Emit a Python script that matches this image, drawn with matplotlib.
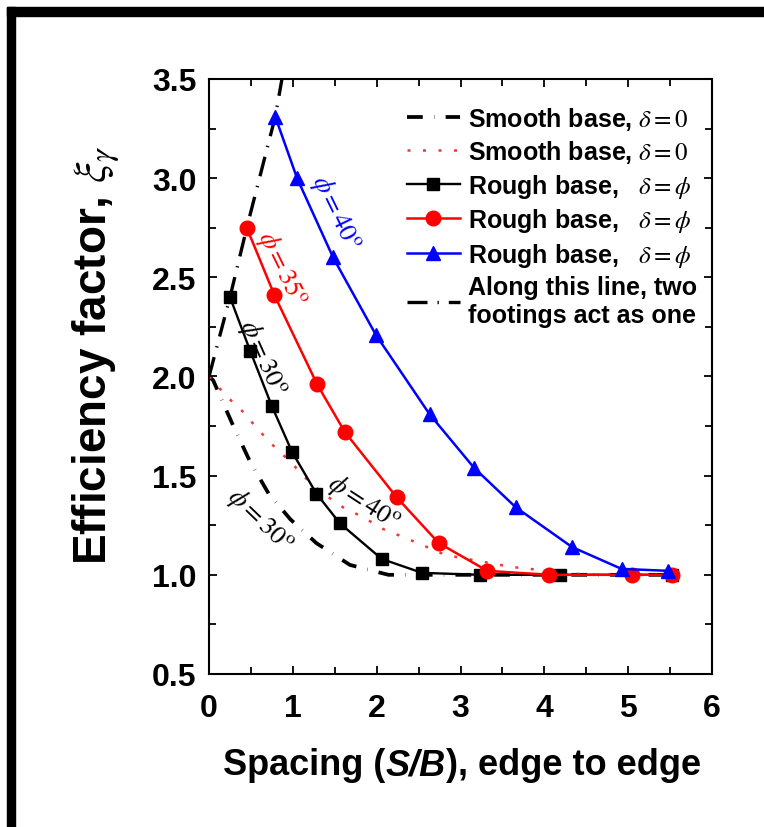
import matplotlib
matplotlib.use("Agg")
import matplotlib.pyplot as plt
from matplotlib.patches import Rectangle
from matplotlib.offsetbox import TextArea, HPacker, AnchoredOffsetbox

# ---------------- data ----------------
rough30_x = [0.25, 0.49, 0.75, 0.99, 1.28, 1.56, 2.06, 2.54, 3.23, 4.19, 5.52]
rough30_y = [2.40, 2.13, 1.85, 1.62, 1.41, 1.26, 1.08, 1.01, 1.00, 1.00, 1.00]

rough35_x = [0.45, 0.78, 1.29, 1.62, 2.24, 2.74, 3.32, 4.06, 5.04, 5.52]
rough35_y = [2.75, 2.41, 1.96, 1.72, 1.39, 1.16, 1.02, 1.00, 1.00, 1.00]

rough40_x = [0.79, 1.05, 1.48, 1.99, 2.63, 3.16, 3.66, 4.33, 4.92, 5.48]
rough40_y = [3.31, 3.00, 2.60, 2.21, 1.81, 1.54, 1.34, 1.14, 1.03, 1.02]

smooth30_x = [0.0, 0.05, 0.29, 0.49, 0.71, 0.97, 1.28, 1.68, 2.14, 3.0, 4.2, 5.5]
smooth30_y = [2.00, 1.98, 1.75, 1.57, 1.41, 1.28, 1.16, 1.05, 1.00, 1.00, 1.00, 1.00]

smooth40_x = [0.0, 0.21, 0.41, 0.59, 0.77, 0.97, 1.17, 1.36, 1.60, 1.84, 2.08, 2.32, 2.60, 2.82, 3.08, 3.60, 4.5, 5.5]
smooth40_y = [2.00, 1.90, 1.82, 1.73, 1.65, 1.57, 1.48, 1.41, 1.34, 1.29, 1.23, 1.19, 1.14, 1.10, 1.08, 1.04, 1.00, 1.00]

oneline_x = [0.0, 0.25, 0.45, 0.79, 0.87]
oneline_y = [2.00, 2.40, 2.75, 3.31, 3.50]

legend_labels = [
    r"Smooth base, $\delta = 0$",
    r"Smooth base, $\delta = 0$",
    r"Rough base,   $\delta = \phi$",
    r"Rough base,   $\delta = \phi$",
    r"Rough base,   $\delta = \phi$",
    "Along this line, two\nfootings act as one",
]

x_ticks = [0, 1, 2, 3, 4, 5, 6]
y_ticks = [0.5, 1.0, 1.5, 2.0, 2.5, 3.0, 3.5]
y_tick_labels = ["0.5", "1.0", "1.5", "2.0", "2.5", "3.0", "3.5"]

# ---------------- fonts ----------------
plt.rcParams["font.family"] = ["Liberation Sans", "DejaVu Sans"]
plt.rcParams["mathtext.fontset"] = "stix"

fig = plt.figure(figsize=(7.64, 8.28), dpi=100)
ax = fig.add_axes([0.2736, 0.1848, 0.9320 - 0.2736, 0.9034 - 0.1848])

# frame bars (left and top) of the figure
fig.add_artist(Rectangle((7 / 764, 0), 8 / 764, 1 - 8 / 828, transform=fig.transFigure,
                         color="black", zorder=10))
fig.add_artist(Rectangle((7 / 764, 1 - 17 / 828), 1, 9 / 828, transform=fig.transFigure,
                         color="black", zorder=10))

ax.plot(smooth30_x, smooth30_y, color="black", lw=2.7,
        dashes=(4.2, 3.0, 0.1, 3.0), label=legend_labels[0])
ax.plot(smooth40_x, smooth40_y, color="#f03838", lw=1.8,
        dashes=(1.2, 5.0), label=legend_labels[1])
ax.plot(rough30_x, rough30_y, color="black", lw=1.7, marker="s", ms=9,
        label=legend_labels[2], zorder=4)
ax.plot(rough35_x, rough35_y, color="#ff0000", lw=1.8, marker="o", ms=10.5,
        label=legend_labels[3], zorder=4)
ax.plot(rough40_x, rough40_y, color="#0000ff", lw=1.8, marker="^", ms=10.5,
        label=legend_labels[4], zorder=4)
ax.plot(oneline_x, oneline_y, color="black", lw=2.4,
        dashes=(6.0, 3.0, 0.4, 3.0), label=legend_labels[5], zorder=3)

ax.set_xlim(0, 6)
ax.set_ylim(0.5, 3.5)
ax.set_xticks(x_ticks)
ax.set_xticklabels([str(v) for v in x_ticks])
ax.set_yticks(y_ticks)
ax.set_yticklabels(y_tick_labels)
ax.set_xticks([0.5 + i for i in range(6)], minor=True)
ax.set_yticks([0.75 + 0.5 * i for i in range(6)], minor=True)
ax.tick_params(which="both", direction="in", top=True, right=True, width=1.3)
ax.tick_params(which="major", length=6)
ax.tick_params(which="minor", length=5)
ax.tick_params(axis="x", which="major", pad=14)
ax.tick_params(axis="y", which="major", pad=9)
for lab in ax.get_xticklabels() + ax.get_yticklabels():
    lab.set_fontweight("bold")
    lab.set_fontsize(23)
for sp in ax.spines.values():
    sp.set_linewidth(1.5)

# x label built from pieces so that S/B is bold italic sans
xl_props = dict(fontsize=26, fontweight="bold", color="black")
xl_box = HPacker(children=[
    TextArea("Spacing (", textprops=xl_props),
    TextArea("S/B", textprops=dict(xl_props, fontstyle="italic")),
    TextArea("), edge to edge", textprops=xl_props),
], align="baseline", pad=0, sep=0)
fig.add_artist(AnchoredOffsetbox(loc="center", child=xl_box, pad=0, borderpad=0,
                                 frameon=False, bbox_to_anchor=(462 / 764, 1 - 766 / 828),
                                 bbox_transform=fig.transFigure))

ax.set_ylabel(r"Efficiency factor, $\xi_\gamma$", fontsize=33, fontweight="bold")
ax.yaxis.set_label_coords(-0.173, 0.538)

# annotations
ann = 19
ax.text(1.51, 2.83, r"$\phi = 40^{\mathrm{o}}$", color="#0000ff", fontsize=ann,
        rotation=-64, ha="center", va="center", rotation_mode="anchor")
ax.text(0.87, 2.55, r"$\phi = 35^{\mathrm{o}}$", color="#ff0000", fontsize=ann,
        rotation=-64, ha="center", va="center", rotation_mode="anchor")
ax.text(0.64, 2.10, r"$\phi = 30^{\mathrm{o}}$", color="black", fontsize=ann,
        rotation=-66, ha="center", va="center", rotation_mode="anchor")
ax.text(1.84, 1.37, r"$\phi = 40^{\mathrm{o}}$", color="black", fontsize=ann,
        rotation=-33, ha="center", va="center", rotation_mode="anchor")
ax.text(0.60, 1.28, r"$\phi = 30^{\mathrm{o}}$", color="black", fontsize=ann,
        rotation=-44, ha="center", va="center", rotation_mode="anchor")

leg = ax.legend(loc="upper left", bbox_to_anchor=(0.394, 0.957), frameon=False,
                prop={"weight": "bold", "size": 18}, handlelength=2.1,
                handletextpad=0.32, labelspacing=0.26, borderaxespad=0, borderpad=0)

fig.savefig("out.png", dpi=100)
